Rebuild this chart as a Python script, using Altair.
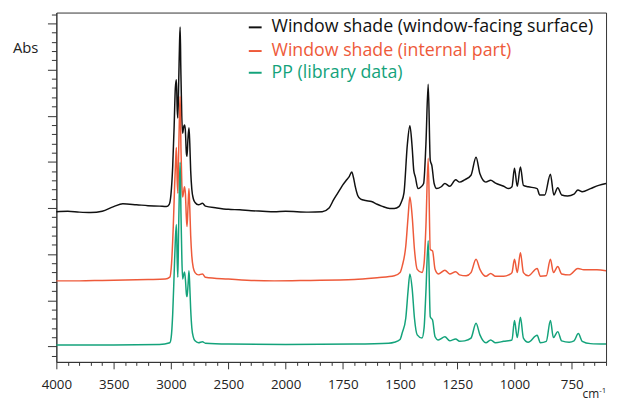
import altair as alt
import pandas as pd

# ---- data (wavenumber cm-1, absorbance offset units) ----
surface = [(4000, 2.92), (3900, 2.93), (3800, 2.91), (3700, 2.90), (3600, 2.93), (3500, 3.03),
           (3420, 3.09), (3300, 3.07), (3200, 3.05), (3100, 3.04), (3040, 3.03), (3015, 3.08),
           (3000, 3.3), (2985, 3.9), (2972, 4.8), (2962, 5.6), (2953, 5.78), (2945, 5.1),
           (2940, 4.95), (2932, 5.8), (2925, 6.6), (2920, 6.92), (2914, 6.0), (2906, 5.0),
           (2898, 4.62), (2890, 4.75), (2882, 4.8), (2875, 4.7), (2866, 4.2), (2860, 4.12),
           (2852, 4.5), (2843, 4.74), (2836, 4.4), (2828, 3.8), (2818, 3.4), (2805, 3.2),
           (2790, 3.12), (2760, 3.07), (2725, 3.1), (2700, 3.04), (2600, 3.0), (2500, 2.97),
           (2400, 2.96), (2300, 2.94), (2200, 2.93), (2100, 2.92), (2000, 2.93), (1900, 2.91),
           (1840, 2.92), (1810, 3.0), (1790, 3.18), (1775, 3.3), (1765, 3.38), (1750, 3.5),
           (1735, 3.6), (1722, 3.68), (1711, 3.78), (1703, 3.65), (1695, 3.45), (1685, 3.27),
           (1672, 3.19), (1650, 3.16), (1625, 3.14), (1600, 3.08), (1580, 3.04), (1545, 2.99),
           (1525, 2.99), (1505, 3.03), (1495, 3.12), (1483, 3.32), (1468, 4.38), (1457, 4.78),
           (1447, 4.31), (1440, 3.81), (1433, 3.67), (1422, 3.42), (1410, 3.45), (1397, 3.53),
           (1387, 4.38), (1377, 5.68), (1368, 4.03), (1361, 3.92), (1351, 3.53), (1340, 3.42),
           (1320, 3.46), (1304, 3.53), (1283, 3.47), (1257, 3.61), (1240, 3.56), (1218, 3.61),
           (1190, 3.71), (1168, 4.1), (1151, 3.74), (1125, 3.56), (1104, 3.6), (1083, 3.54),
           (1047, 3.47), (1025, 3.42), (1011, 3.46), (1000, 3.86), (988, 3.47), (974, 3.89),
           (961, 3.49), (940, 3.46), (901, 3.42), (890, 3.28), (868, 3.28), (843, 3.73),
           (828, 3.28), (811, 3.44), (794, 3.28), (768, 3.26), (740, 3.30), (723, 3.39),
           (704, 3.35), (668, 3.42), (632, 3.49), (600, 3.53)]

internal = [(4000, 1.42), (3800, 1.42), (3600, 1.43), (3400, 1.44), (3200, 1.45), (3050, 1.46),
            (3010, 1.5), (2995, 1.8), (2980, 2.6), (2968, 3.5), (2958, 4.1), (2953, 4.31),
            (2946, 3.6), (2940, 3.32), (2933, 4.2), (2926, 5.0), (2920, 5.42), (2913, 4.3),
            (2905, 3.5), (2898, 3.24), (2890, 3.35), (2882, 3.46), (2874, 3.3), (2866, 2.8),
            (2860, 2.6), (2852, 3.0), (2843, 3.42), (2836, 3.0), (2828, 2.4), (2818, 1.95),
            (2805, 1.7), (2790, 1.6), (2760, 1.55), (2725, 1.57), (2700, 1.5), (2500, 1.46),
            (2300, 1.43), (2100, 1.42), (1900, 1.43), (1700, 1.45), (1600, 1.49), (1525, 1.53),
            (1500, 1.6), (1490, 1.75), (1475, 2.17), (1465, 2.8), (1457, 3.24), (1447, 2.82),
            (1437, 2.10), (1425, 1.67), (1404, 1.60), (1395, 1.8), (1387, 2.60), (1377, 4.08),
            (1368, 2.10), (1358, 2.07), (1347, 1.67), (1333, 1.57), (1304, 1.65), (1283, 1.57),
            (1257, 1.62), (1240, 1.55), (1211, 1.53), (1190, 1.60), (1168, 1.89), (1151, 1.67),
            (1125, 1.52), (1104, 1.58), (1083, 1.52), (1047, 1.52), (1025, 1.55), (1011, 1.60),
            (1000, 1.89), (988, 1.60), (974, 2.03), (961, 1.60), (940, 1.53), (901, 1.69),
            (887, 1.52), (861, 1.53), (843, 1.89), (830, 1.60), (811, 1.73), (794, 1.57),
            (761, 1.55), (723, 1.69), (697, 1.66), (640, 1.66), (600, 1.64)]

library = [(4000, 0.03), (3500, 0.03), (3100, 0.04), (3010, 0.08), (2998, 0.2), (2985, 0.7),
           (2972, 1.6), (2962, 2.3), (2953, 2.64), (2946, 1.9), (2940, 1.5), (2933, 2.6),
           (2926, 3.5), (2920, 3.99), (2913, 2.9), (2905, 1.9), (2898, 1.46), (2890, 1.55),
           (2882, 1.61), (2874, 1.45), (2866, 1.15), (2860, 1.08), (2852, 1.3), (2843, 1.64),
           (2836, 1.3), (2828, 0.8), (2818, 0.4), (2805, 0.2), (2790, 0.12), (2760, 0.08),
           (2725, 0.1), (2700, 0.07), (2500, 0.05), (2000, 0.04), (1700, 0.05), (1550, 0.07),
           (1525, 0.09), (1500, 0.15), (1490, 0.3), (1475, 0.61), (1465, 1.2), (1457, 1.57),
           (1447, 1.25), (1437, 0.61), (1425, 0.25), (1404, 0.18), (1395, 0.4), (1387, 1.18),
           (1377, 2.29), (1368, 0.64), (1358, 0.57), (1347, 0.21), (1333, 0.14), (1304, 0.21),
           (1283, 0.12), (1257, 0.16), (1240, 0.11), (1218, 0.12), (1190, 0.18), (1168, 0.5),
           (1151, 0.25), (1125, 0.08), (1104, 0.14), (1083, 0.08), (1047, 0.11), (1011, 0.14),
           (1000, 0.56), (988, 0.19), (974, 0.63), (961, 0.18), (940, 0.09), (901, 0.24),
           (887, 0.08), (861, 0.11), (843, 0.56), (830, 0.19), (811, 0.32), (794, 0.12),
           (761, 0.09), (740, 0.12), (721, 0.28), (704, 0.11), (668, 0.06), (600, 0.05)]

series_names = ["Window shade (window-facing surface)", "Window shade (internal part)", "PP (library data)"]
series_colors = ["#111111", "#EE5A3A", "#14A37B"]
series_data = [surface, internal, library]

x_tick_values = [4000, 3900, 3800, 3700, 3600, 3500, 3400, 3300, 3200, 3100, 3000, 2900, 2800,
                 2700, 2600, 2500, 2400, 2300, 2200, 2100, 2000, 1950, 1900, 1850, 1800, 1750,
                 1700, 1650, 1600, 1550, 1500, 1450, 1400, 1350, 1300, 1250, 1200, 1150, 1100,
                 1050, 1000, 950, 900, 850, 800, 750, 700, 650, 600]
y_tick_values = [round(-0.2 + 0.2 * i, 1) for i in range(38)]

rows = []
for name, pts in zip(series_names, series_data):
    for w, a in pts:
        rows.append({"series": name, "wn": w, "abs": a})
df = pd.DataFrame(rows)

W, H = 557, 354
FONT = "Open Sans"
AXC = "#333333"

x_major = "(datum.value >= 2000 ? datum.value % 500 == 0 : datum.value % 250 == 0) && datum.value > 600"
y_major = "abs(datum.value - round(datum.value)) < 0.01"

x_scale = alt.Scale(domain=[4000, 2000, 600], range=[0, 232.3, W], nice=False, zero=False)
y_scale = alt.Scale(domain=[-0.336, 7.235], nice=False, zero=False)

lines = alt.Chart(df).mark_line(strokeWidth=1.5, interpolate="monotone").encode(
    x=alt.X("wn:Q", scale=x_scale,
            axis=alt.Axis(values=x_tick_values, title=None, format="d", grid=False,
                          labelExpr=f"({x_major}) ? datum.label : ''",
                          tickSize={"condition": {"test": x_major, "value": 7}, "value": 3.5},
                          labelPadding=9, labelFontSize=13.5, labelFont=FONT, labelColor="#222",
                          tickColor=AXC, domainColor=AXC, labelFlush=False)),
    y=alt.Y("abs:Q", scale=y_scale,
            axis=alt.Axis(values=y_tick_values, title=None, labels=False, grid=False,
                          tickSize={"condition": {"test": y_major, "value": 9}, "value": 5},
                          tickColor=AXC, domainColor=AXC)),
    color=alt.Color("series:N", scale=alt.Scale(domain=series_names, range=series_colors), legend=None),
    detail="series:N",
)

layers = [lines]
leg_y = [15, 39, 61]
for name, col, yy in zip(series_names, series_colors, leg_y):
    ld = pd.DataFrame({"label": [name]})
    layers.append(alt.Chart(ld).mark_rule(color=col, strokeWidth=2).encode(
        x=alt.value(195), x2=alt.value(208), y=alt.value(yy)))
    layers.append(alt.Chart(ld).mark_text(align="left", baseline="middle", font=FONT,
                                          fontSize=18, color=col).encode(
        text="label:N", x=alt.value(218), y=alt.value(yy)))

abs_df = pd.DataFrame({"t": ["Abs"]})
layers.append(alt.Chart(abs_df).mark_text(align="left", baseline="middle", font=FONT,
                                          fontSize=15, color="#222").encode(
    text="t:N", x=alt.value(-44), y=alt.value(36)))
cm_df = pd.DataFrame({"t": ["cm"]})
layers.append(alt.Chart(cm_df).mark_text(align="right", baseline="alphabetic", font=FONT,
                                         fontSize=12, color="#222").encode(
    text="t:N", x=alt.value(550), y=alt.value(391)))
sup_df = pd.DataFrame({"t": ["-1"]})
layers.append(alt.Chart(sup_df).mark_text(align="left", baseline="alphabetic", font=FONT,
                                          fontSize=8, color="#222").encode(
    text="t:N", x=alt.value(550), y=alt.value(386)))

chart = alt.layer(*layers).properties(
    width=W, height=H, autosize="none",
    padding={"left": 49, "top": 2, "right": 3, "bottom": 37},
).configure_view(stroke=AXC, strokeWidth=1)

chart.save("out.html", embed_options={"renderer": "svg", "actions": False})
